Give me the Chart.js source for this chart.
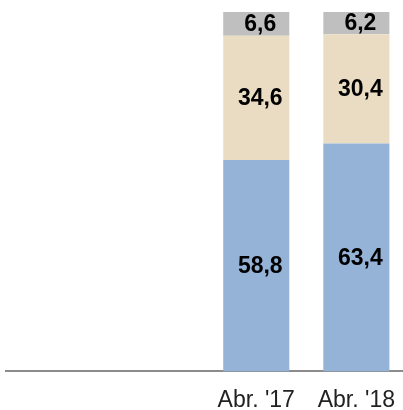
<!DOCTYPE html>
<html>
<head>
<meta charset="utf-8">
<script src="https://cdn.jsdelivr.net/npm/chart.js@4/dist/chart.umd.min.js"></script>
<style>
  html, body { margin: 0; padding: 0; background: #fff; overflow: hidden; }
  #wrap { width: 410px; height: 432px; }
</style>
</head>
<body>
<div id="wrap"><canvas id="chart"></canvas></div>
<script>
const categories = ['', '', "Abr. '17", "Abr. '18"];
const bottomSeries = [null, null, 58.8, 63.4];
const middleSeries = [null, null, 34.6, 30.4];
const topSeries = [null, null, 6.6, 6.2];

const fmt = v => v.toFixed(1).replace('.', ',');

const labelPlugin = {
  id: 'segLabels',
  afterDatasetsDraw(chart) {
    const ctx = chart.ctx;
    ctx.save();
    ctx.font = 'bold 23px "Liberation Sans", Arial, sans-serif';
    ctx.fillStyle = '#000';
    ctx.textAlign = 'center';
    ctx.textBaseline = 'middle';
    chart.data.datasets.forEach((ds, i) => {
      const meta = chart.getDatasetMeta(i);
      meta.data.forEach((bar, j) => {
        const v = ds.data[j];
        if (v == null) return;
        const y = (bar.y + bar.base) / 2;
        ctx.fillText(fmt(v), bar.x + 4, y + 1);
      });
    });
    ctx.restore();
  }
};

new Chart(document.getElementById('chart'), {
  type: 'bar',
  data: {
    labels: categories,
    datasets: [
      { data: bottomSeries, backgroundColor: '#95b3d7' },
      { data: middleSeries, backgroundColor: '#e9dcc3' },
      { data: topSeries, backgroundColor: '#bfbfbf' }
    ]
  },
  options: {
    responsive: true,
    maintainAspectRatio: false,
    animation: false,
    layout: { padding: { left: 6, right: 0, top: 12, bottom: 3 } },
    plugins: { legend: { display: false }, tooltip: { enabled: false } },
    datasets: { bar: { categoryPercentage: 0.66, barPercentage: 1 } },
    scales: {
      x: {
        stacked: true,
        grid: { display: false, drawTicks: false },
        border: { display: true, color: '#8c8c8c', width: 2 },
        ticks: {
          color: '#222',
          padding: 15,
          font: { size: 23, family: '"Liberation Sans", Arial, sans-serif' }
        }
      },
      y: {
        stacked: true,
        display: false,
        min: 0,
        max: 100
      }
    }
  },
  plugins: [labelPlugin]
});
</script>
</body>
</html>
